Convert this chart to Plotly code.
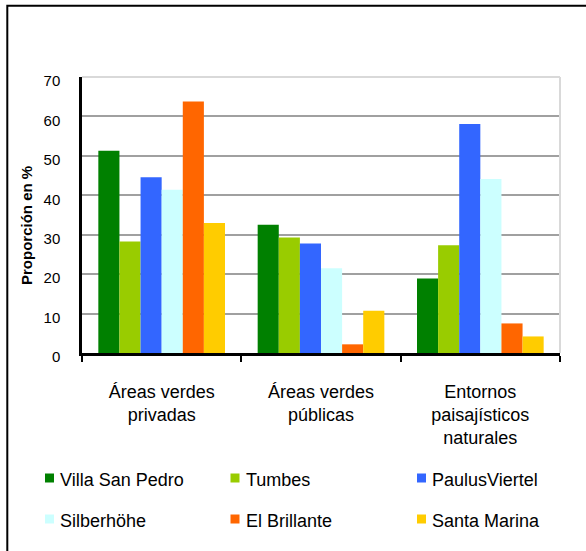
import plotly.graph_objects as go

# Categories and series values (percent)
categories = ["Áreas verdes<br>privadas", "Áreas verdes<br>públicas",
              "Entornos<br>paisajísticos<br>naturales"]
series_names = ["Villa San Pedro", "Tumbes", "PaulusViertel",
                "Silberhöhe", "El Brillante", "Santa Marina"]
villa_san_pedro = [51.3, 32.5, 18.9]
tumbes = [28.3, 29.3, 27.3]
paulus_viertel = [44.6, 27.8, 58.1]
silberhoehe = [41.4, 21.5, 44.1]
el_brillante = [63.8, 2.2, 7.5]
santa_marina = [33.0, 10.7, 4.2]
series_values = [villa_san_pedro, tumbes, paulus_viertel,
                 silberhoehe, el_brillante, santa_marina]
colors = ["#008000", "#99cc00", "#3366ff", "#ccffff", "#ff6600", "#ffcc00"]
y_ticks = [0, 10, 20, 30, 40, 50, 60, 70]

W, H = 586, 551
L, R, T, B = 82, 26, 77, 198
pw, ph = W - L - R, H - T - B


def px_x(x):
    return (x - L) / pw


def px_y(y):
    return (H - B - y) / ph


fig = go.Figure()
for name, vals, col in zip(series_names, series_values, colors):
    fig.add_trace(go.Bar(
        x=categories, y=vals, name=name,
        marker=dict(color=col, line=dict(width=0)),
        showlegend=False,
    ))

shapes = []
annotations = []

# light grey frame of the plotting area (top and right)
shapes.append(dict(type="line", xref="paper", yref="paper", x0=0, x1=1, y0=1, y1=1,
                   line=dict(color="#d9d9d9", width=2), layer="above"))
shapes.append(dict(type="line", xref="paper", yref="paper", x0=1, x1=1, y0=0, y1=1,
                   line=dict(color="#d9d9d9", width=2), layer="above"))

# outer chart border
shapes.append(dict(type="rect", xref="paper", yref="paper",
                   x0=px_x(7.3), x1=px_x(620), y0=px_y(5.7), y1=px_y(600),
                   line=dict(color="#000000", width=2), fillcolor="rgba(0,0,0,0)",
                   layer="below"))

# legend: 3 columns x 2 rows
col_x = [45, 230.5, 417]
row_y = [478, 519]
for i, (name, col) in enumerate(zip(series_names, colors)):
    cx = col_x[i % 3]
    cy = row_y[i // 3]
    shapes.append(dict(type="rect", xref="paper", yref="paper",
                       x0=px_x(cx), x1=px_x(cx + 9), y0=px_y(cy - 4.5), y1=px_y(cy + 4.5),
                       line=dict(width=0), fillcolor=col))
    annotations.append(dict(xref="paper", yref="paper", x=px_x(cx + 13), y=px_y(cy + 2),
                            text=name, showarrow=False, xanchor="left", yanchor="middle",
                            font=dict(family="Liberation Sans, Arial", size=18, color="#000000")))

# y axis title
annotations.append(dict(xref="paper", yref="paper", x=px_x(26), y=px_y(226),
                        text="<b>Proporción en %</b>", textangle=-90, showarrow=False,
                        xanchor="center", yanchor="middle",
                        font=dict(family="Liberation Sans, Arial", size=15, color="#000000")))

fig.update_layout(
    width=W, height=H,
    margin=dict(l=L, r=R, t=T, b=B),
    paper_bgcolor="#ffffff", plot_bgcolor="#ffffff",
    barmode="group", bargap=0.205, bargroupgap=0,
    shapes=shapes, annotations=annotations,
    showlegend=False,
    xaxis=dict(
        type="category",
        showline=True, linecolor="#000000", linewidth=3,
        ticks="outside", tickson="boundaries", ticklen=6, tickwidth=2, tickcolor="#000000",
        showgrid=False, zeroline=False,
        tickfont=dict(family="Liberation Sans, Arial", size=18, color="#000000"),
        ticklabelstandoff=20,
    ),
    yaxis=dict(
        range=[0, 70], tickvals=y_ticks, ticktext=[str(v) for v in y_ticks],
        showline=True, linecolor="#000000", linewidth=2.5,
        ticks="", showgrid=True, gridcolor="#a0a0a0", gridwidth=1.8,
        zeroline=False,
        tickfont=dict(family="Liberation Sans, Arial", size=15, color="#000000"),
        ticklabelstandoff=16,
        ticklabelshift=4,
    ),
)

fig.write_html("out.html")
